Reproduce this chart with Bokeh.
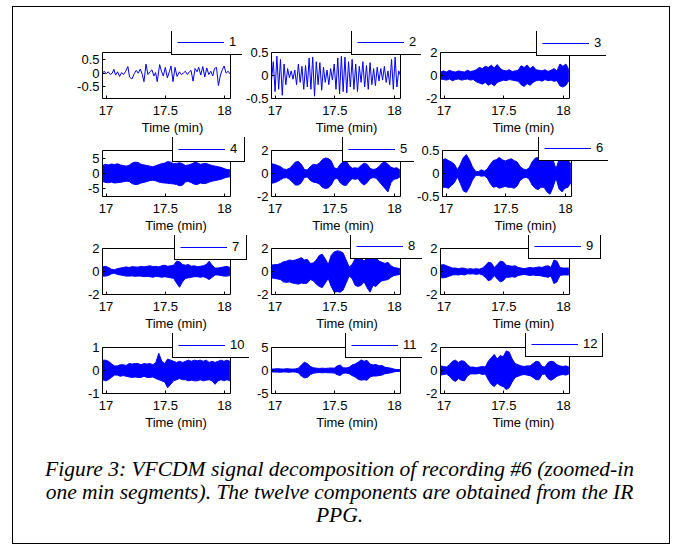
from bokeh.plotting import figure
from bokeh.models import Legend, LegendItem, FixedTicker, Range1d, Div, BoxAnnotation
from bokeh.layouts import row, column
from bokeh.embed import file_html
from bokeh.resources import INLINE

# ---------------- data ----------------
PANEL_NAMES = ["1", "2", "3", "4", "5", "6", "7", "8", "9", "10", "11", "12"]
X_LIM = (16.97, 18.05)
X_TICKS = [17, 17.5, 18]
X_TICK_LABELS = ["17", "17.5", "18"]
X_LABEL = "Time (min)"

Y_LIMITS = [(-0.92, 0.75), (-0.5, 0.5), (-2, 2), (-7.5, 7.5), (-2, 2), (-0.5, 0.5),
            (-2, 2), (-2, 2), (-2, 2), (-1, 1), (-5, 5), (-2, 2)]
Y_TICKS = [[-0.5, 0, 0.5], [-0.5, 0, 0.5], [-2, 0, 2], [-5, 0, 5], [-2, 0, 2], [-0.5, 0, 0.5],
           [-2, 0, 2], [-2, 0, 2], [-2, 0, 2], [-1, 0, 1], [-5, 0, 5], [-2, 0, 2]]
Y_TICK_LABELS = [["-0.5", "0", "0.5"], ["-0.5", "0", "0.5"], ["-2", "0", "2"], ["-5", "0", "5"],
                 ["-2", "0", "2"], ["-0.5", "0", "0.5"], ["-2", "0", "2"], ["-2", "0", "2"],
                 ["-2", "0", "2"], ["-1", "0", "1"], ["-5", "0", "5"], ["-2", "0", "2"]]

# component 1 (individual samples)
t1 = [16.97, 16.984, 17.001, 17.018, 17.035, 17.052, 17.066, 17.08, 17.097, 17.114,
      17.131, 17.148, 17.165, 17.184, 17.198, 17.218, 17.238, 17.255, 17.272, 17.289,
      17.306, 17.32, 17.337, 17.353, 17.37, 17.387, 17.404, 17.418, 17.432, 17.452,
      17.469, 17.483, 17.5, 17.517, 17.534, 17.548, 17.565, 17.582, 17.599, 17.619,
      17.635, 17.652, 17.669, 17.686, 17.703, 17.717, 17.734, 17.751, 17.768, 17.782,
      17.799, 17.816, 17.833, 17.85, 17.867, 17.884, 17.9, 17.915, 17.932, 17.948,
      17.965, 17.982, 17.996, 18.013, 18.03, 18.05]
v1 = [0.0, 0.07, -0.02, 0.05, -0.05, 0.0, 0.14, -0.07, 0.05, -0.12,
      0.02, -0.05, 0.07, 0.24, -0.14, -0.21, -0.02, 0.1, 0.0, 0.15,
      -0.05, -0.31, 0.33, -0.05, 0.05, 0.12, -0.1, 0.02, -0.31, 0.31,
      0.05, -0.1, 0.21, -0.17, 0.05, 0.26, -0.31, 0.21, -0.12, 0.05,
      -0.05, 0.0, 0.07, -0.05, 0.05, 0.1, -0.29, 0.17, 0.05, 0.21,
      -0.07, 0.24, -0.14, 0.19, -0.05, 0.07, -0.1, 0.17, 0.21, -0.45,
      -0.07, 0.14, 0.26, 0.0, 0.07, -0.05]

# component 2 (individual samples)
t2 = [16.970, 16.985, 17.000, 17.015, 17.030, 17.045, 17.060, 17.075, 17.090, 17.105,
      17.120, 17.135, 17.150, 17.165, 17.180, 17.195, 17.210, 17.225, 17.240, 17.255,
      17.270, 17.285, 17.300, 17.315, 17.330, 17.345, 17.360, 17.375, 17.390, 17.405,
      17.420, 17.435, 17.450, 17.465, 17.480, 17.495, 17.510, 17.525, 17.540, 17.555,
      17.570, 17.585, 17.600, 17.615, 17.630, 17.645, 17.660, 17.675, 17.690, 17.705,
      17.720, 17.735, 17.750, 17.765, 17.780, 17.795, 17.810, 17.825, 17.840, 17.855,
      17.870, 17.885, 17.900, 17.915, 17.930, 17.945, 17.960, 17.975, 17.990, 18.005,
      18.020, 18.035, 18.050]
v2 = [-0.1, 0.3, -0.35, 0.42, -0.3, 0.35, -0.43, 0.25, -0.2, 0.15,
      -0.05, 0.1, -0.08, 0.12, -0.2, 0.25, -0.15, 0.2, -0.3, 0.22,
      -0.25, 0.38, -0.3, 0.4, -0.45, 0.3, -0.2, 0.28, -0.32, 0.18,
      -0.15, 0.12, -0.2, 0.15, -0.1, 0.25, -0.3, 0.38, -0.4, 0.42,
      -0.35, 0.4, -0.38, 0.3, -0.25, 0.35, -0.3, 0.25, -0.35, 0.2,
      -0.15, 0.3, -0.25, 0.22, -0.3, 0.28, -0.2, 0.15, -0.22, 0.18,
      -0.12, 0.15, -0.1, 0.2, -0.15, 0.1, -0.2, 0.35, -0.3, 0.4,
      -0.25, 0.1, 0.0]

# components 3-12: dense oscillations, upper / lower envelopes on a time grid
t_env = [16.97, 16.995, 17.02, 17.045, 17.07, 17.095, 17.12, 17.145, 17.17, 17.195,
         17.22, 17.245, 17.27, 17.295, 17.32, 17.345, 17.37, 17.395, 17.42, 17.445,
         17.47, 17.495, 17.52, 17.545, 17.57, 17.595, 17.62, 17.645, 17.67, 17.695,
         17.72, 17.745, 17.77, 17.795, 17.82, 17.845, 17.87, 17.895, 17.92, 17.945,
         17.97, 17.995, 18.02, 18.045]

upper3 = [0.3, 0.4, 0.3, 0.45, 0.35, 0.3, 0.4, 0.35, 0.3, 0.45, 0.35, 0.4, 0.5, 0.7, 0.6, 0.8, 0.7, 0.9, 0.65, 0.95,
          0.6, 0.45, 0.4, 0.5, 0.35, 0.4, 0.45, 0.85, 0.7, 0.9, 0.6, 0.8, 0.5, 0.45, 0.4, 0.5, 0.35, 0.45, 0.6, 0.4,
          1.0, 0.8, 1.0, 0.5]
lower3 = [-0.3, -0.35, -0.4, -0.3, -0.45, -0.35, -0.3, -0.4, -0.35, -0.3, -0.4, -0.35, -0.55, -0.65, -0.75, -0.6, -0.85, -0.7, -0.9, -0.6,
          -0.5, -0.4, -0.45, -0.35, -0.4, -0.45, -0.5, -0.8, -0.95, -0.7, -0.85, -0.6, -0.45, -0.4, -0.5, -0.35, -0.45, -0.4, -0.5, -0.45,
          -0.9, -1.0, -0.85, -0.45]
upper4 = [2.6, 3.0, 2.8, 3.1, 2.9, 3.2, 2.8, 2.6, 2.4, 2.7, 3.4, 3.7, 3.6, 3.0, 2.8, 2.6, 2.4, 2.2, 2.5, 2.9,
          3.2, 3.4, 3.9, 3.7, 3.2, 3.3, 3.5, 3.2, 2.6, 2.8, 3.1, 3.6, 3.5, 3.0, 3.2, 3.3, 2.9, 2.6, 2.4, 2.2,
          2.0, 1.6, 1.3, 1.2]
lower4 = [-2.6, -2.9, -3.0, -2.8, -3.1, -3.0, -2.9, -2.7, -2.5, -2.6, -3.3, -3.6, -3.5, -3.1, -2.9, -2.6, -2.3, -2.2, -2.4, -2.8,
          -3.0, -3.1, -3.2, -3.3, -3.4, -3.6, -4.0, -3.8, -2.7, -2.6, -3.0, -3.5, -3.6, -3.1, -3.3, -3.2, -2.8, -2.5, -2.3, -2.1,
          -1.9, -1.5, -1.2, -1.1]
upper5 = [0.85, 0.8, 0.7, 0.6, 0.4, 0.35, 0.45, 0.7, 1.0, 1.05, 0.8, 0.35, 0.3, 0.6, 0.8, 0.75, 0.9, 1.2, 1.35, 1.3,
          1.1, 0.5, 0.4, 0.8, 1.0, 1.1, 0.7, 0.45, 0.5, 0.45, 0.7, 0.9, 0.8, 0.45, 0.35, 0.4, 0.6, 0.9, 1.0, 0.8,
          0.55, 0.45, 0.5, 0.3]
lower5 = [-0.85, -0.8, -0.7, -0.55, -0.4, -0.35, -0.5, -0.75, -1.0, -1.0, -0.8, -0.35, -0.3, -0.6, -0.75, -0.8, -0.9, -1.2, -1.3, -1.25,
          -1.0, -0.5, -0.4, -0.8, -1.0, -1.05, -0.7, -0.45, -0.5, -0.45, -0.8, -1.0, -0.8, -0.45, -0.35, -0.4, -0.7, -1.0, -1.3, -1.6,
          -0.8, -0.5, -0.45, -0.3]
upper6 = [0.3, 0.32, 0.28, 0.25, 0.2, 0.08, 0.2, 0.35, 0.41, 0.3, 0.15, 0.05, 0.04, 0.08, 0.05, 0.1, 0.2, 0.28, 0.3, 0.35,
          0.3, 0.27, 0.3, 0.32, 0.28, 0.25, 0.15, 0.1, 0.08, 0.12, 0.25, 0.33, 0.35, 0.3, 0.25, 0.35, 0.4, 0.3, 0.1, 0.3,
          0.38, 0.33, 0.3, 0.2]
lower6 = [-0.3, -0.3, -0.32, -0.26, -0.2, -0.07, -0.22, -0.38, -0.41, -0.3, -0.15, -0.05, -0.04, -0.06, -0.05, -0.1, -0.22, -0.3, -0.28, -0.32,
          -0.3, -0.28, -0.3, -0.3, -0.32, -0.27, -0.15, -0.1, -0.08, -0.12, -0.25, -0.32, -0.35, -0.3, -0.3, -0.4, -0.45, -0.3, -0.1, -0.33,
          -0.4, -0.32, -0.3, -0.2]
upper7 = [0.4, 0.45, 0.35, 0.2, 0.15, 0.25, 0.3, 0.35, 0.4, 0.35, 0.42, 0.4, 0.38, 0.45, 0.4, 0.45, 0.5, 0.42, 0.45, 0.4,
          0.5, 0.55, 0.45, 0.5, 0.55, 0.9, 0.85, 0.6, 0.55, 0.6, 0.45, 0.5, 0.42, 0.45, 0.5, 0.6, 0.9, 0.55, 0.3, 0.3,
          0.35, 0.4, 0.45, 0.35]
lower7 = [-0.4, -0.4, -0.35, -0.2, -0.15, -0.25, -0.3, -0.35, -0.4, -0.4, -0.38, -0.42, -0.4, -0.4, -0.45, -0.42, -0.45, -0.5, -0.42, -0.45,
          -0.5, -0.45, -0.5, -0.55, -0.6, -1.0, -1.37, -0.9, -0.6, -0.55, -0.5, -0.45, -0.45, -0.5, -0.45, -0.55, -0.7, -0.5, -0.3, -0.3,
          -0.35, -0.4, -0.4, -0.35]
upper8 = [0.55, 0.6, 0.6, 0.7, 0.85, 0.9, 1.0, 0.95, 1.0, 1.1, 1.2, 1.0, 1.05, 0.7, 0.75, 1.0, 1.4, 1.5, 1.1, 0.6,
          1.4, 1.7, 1.8, 1.75, 1.6, 1.0, 0.4, 0.6, 1.1, 1.2, 1.15, 0.9, 1.2, 1.3, 1.0, 1.2, 0.9, 0.8, 0.7, 0.8,
          0.5, 0.35, 0.3, 0.25]
lower8 = [-0.55, -0.6, -0.65, -0.7, -0.9, -0.95, -0.9, -1.0, -1.05, -1.1, -1.0, -1.05, -1.0, -0.7, -0.8, -1.1, -1.3, -1.4, -1.0, -0.6,
          -1.3, -1.8, -1.75, -1.8, -1.6, -1.0, -0.4, -0.6, -1.2, -1.3, -1.2, -0.9, -1.4, -1.8, -1.2, -1.3, -1.0, -0.8, -0.75, -0.7,
          -0.5, -0.35, -0.3, -0.25]
upper9 = [0.55, 0.6, 0.5, 0.4, 0.3, 0.3, 0.25, 0.3, 0.28, 0.2, 0.25, 0.2, 0.25, 0.2, 0.3, 0.5, 0.8, 0.75, 0.35, 0.6,
          0.9, 0.85, 0.55, 0.5, 0.45, 0.5, 0.35, 0.3, 0.25, 0.3, 0.35, 0.3, 0.35, 0.4, 0.35, 0.45, 0.5, 0.35, 1.0, 0.9,
          0.35, 0.3, 0.3, 0.3]
lower9 = [-0.55, -0.55, -0.5, -0.4, -0.3, -0.28, -0.3, -0.25, -0.3, -0.2, -0.22, -0.2, -0.25, -0.2, -0.3, -0.5, -0.8, -0.7, -0.35, -0.65,
          -0.9, -0.8, -0.5, -0.5, -0.45, -0.5, -0.35, -0.3, -0.25, -0.3, -0.35, -0.3, -0.35, -0.35, -0.4, -0.45, -0.5, -0.4, -1.05, -0.9,
          -0.35, -0.3, -0.3, -0.3]
upper10 = [0.45, 0.45, 0.4, 0.3, 0.2, 0.2, 0.25, 0.25, 0.22, 0.3, 0.28, 0.3, 0.3, 0.25, 0.3, 0.28, 0.3, 0.25, 0.35, 0.75,
           0.4, 0.3, 0.5, 0.45, 0.4, 0.35, 0.4, 0.35, 0.4, 0.45, 0.4, 0.45, 0.42, 0.45, 0.4, 0.45, 0.35, 0.4, 0.35, 0.4,
           0.45, 0.4, 0.45, 0.4]
lower10 = [-0.4, -0.45, -0.4, -0.3, -0.2, -0.2, -0.25, -0.22, -0.25, -0.28, -0.3, -0.28, -0.3, -0.3, -0.25, -0.3, -0.3, -0.28, -0.35, -0.4,
           -0.45, -0.5, -0.75, -0.6, -0.45, -0.4, -0.35, -0.4, -0.4, -0.45, -0.42, -0.45, -0.45, -0.4, -0.45, -0.42, -0.4, -0.45, -0.6, -0.45,
           -0.4, -0.45, -0.4, -0.45]
upper11 = [0.3, 0.35, 0.4, 0.35, 0.3, 0.4, 0.35, 0.3, 0.35, 0.5, 1.2, 1.8, 1.5, 0.9, 0.6, 0.5, 0.45, 0.5, 0.45, 0.5,
           0.55, 0.5, 1.0, 1.2, 0.6, 0.55, 0.7, 1.2, 1.4, 1.8, 2.3, 2.0, 2.2, 1.4, 1.2, 1.3, 1.0, 1.1, 0.7, 0.6,
           0.5, 0.3, 0.2, 0.2]
lower11 = [-0.3, -0.35, -0.35, -0.4, -0.3, -0.35, -0.4, -0.3, -0.35, -0.5, -1.2, -1.6, -1.5, -0.9, -0.6, -0.5, -0.45, -0.5, -0.45, -0.5,
           -0.5, -0.55, -0.9, -1.1, -0.6, -0.55, -0.7, -1.1, -1.4, -1.9, -2.1, -2.0, -2.1, -1.4, -1.2, -1.2, -1.1, -1.0, -0.7, -0.6,
           -0.5, -0.3, -0.2, -0.2]
upper12 = [0.4, 0.35, 0.3, 0.5, 0.8, 0.9, 0.7, 0.85, 0.8, 0.5, 0.3, 0.3, 0.25, 0.3, 0.35, 0.3, 0.8, 1.1, 1.4, 1.0,
           1.3, 1.2, 1.7, 1.6, 1.0, 0.6, 0.5, 0.4, 0.35, 0.4, 0.4, 0.6, 0.8, 0.75, 0.35, 0.3, 0.7, 0.8, 0.75, 0.5,
           0.4, 0.35, 0.4, 0.3]
lower12 = [-0.4, -0.35, -0.3, -0.5, -0.8, -0.95, -0.7, -0.85, -0.9, -0.5, -0.3, -0.3, -0.3, -0.25, -0.35, -0.3, -0.8, -1.2, -1.4, -1.1,
           -1.3, -1.4, -1.65, -1.5, -1.0, -0.6, -0.5, -0.4, -0.35, -0.4, -0.45, -0.6, -0.8, -0.8, -0.35, -0.3, -0.7, -0.85, -0.7, -0.5,
           -0.4, -0.35, -0.4, -0.3]

ENVELOPES = {2: (upper3, lower3), 3: (upper4, lower4), 4: (upper5, lower5), 5: (upper6, lower6),
             6: (upper7, lower7), 7: (upper8, lower8), 8: (upper9, lower9), 9: (upper10, lower10),
             10: (upper11, lower11), 11: (upper12, lower12)}

CAPTION_LINES = ["Figure 3: VFCDM signal decomposition of recording #6 (zoomed-in",
                 "one min segments). The twelve components are obtained from the IR",
                 "PPG."]

# ---------------- layout / style ----------------
BLUE = "#0000ff"
FONT = "Liberation Sans"
FS = "13px"
FRAME_L = [102, 271, 439]           # left edge of each axes box (page px)
FRAME_W = [128, 129, 129]           # width of each axes box
BOX_H = 46                          # height of each axes box
ROW_BOUNDS = [(13, 243, 422, 666), (13, 251, 414, 666), (13, 251, 422, 666), (13, 251, 422, 666)]
ROW_TOP = [24, 0, 0, 0]             # figure space above the (extended) plot frame
ROW_EXT_T = [21, 13, 13, 14]        # frame extends above the axes box to hold the legend
ROW_EXT_R = [(12, 21, 37), (19, 14, 37), (19, 22, 37), (19, 22, 37)]
ROW_BOTTOM = 39
LEGEND_POS = [(69, 43), (80, 43), (96, 42), (70, 34), (71, 34), (96, 35),
              (72, 34), (79, 35), (88, 35), (70, 35), (74, 35), (85, 36)]
CONTENT_W = 653
CAPTION_H = 111


def style_axis(ax, ticks, labels, bounds):
    ax.ticker = FixedTicker(ticks=ticks)
    ax.bounds = bounds
    ax.major_tick_in = 3
    ax.major_tick_out = 0
    ax.minor_tick_in = 0
    ax.minor_tick_out = 0
    ax.axis_line_color = "black"
    ax.major_tick_line_color = "black"
    ax.major_label_overrides = dict(zip(ticks, labels))
    ax.major_label_text_font = FONT
    ax.major_label_text_font_size = FS
    ax.major_label_text_color = "black"
    ax.major_label_standoff = 3


def build_panel(k, ri, ci):
    L = ROW_BOUNDS[ri][ci]
    R = ROW_BOUNDS[ri][ci + 1]
    fl = FRAME_L[ci]
    fw = FRAME_W[ci]
    ext_t = ROW_EXT_T[ri]
    ext_r = ROW_EXT_R[ri][ci]
    ylo, yhi = Y_LIMITS[k]
    x_end = X_LIM[1] + (X_LIM[1] - X_LIM[0]) * ext_r / fw
    y_end = yhi + (yhi - ylo) * ext_t / BOX_H
    p = figure(frame_width=fw + ext_r, frame_height=BOX_H + ext_t,
               min_border_left=fl - L, min_border_right=R - (fl + fw + ext_r),
               min_border_top=ROW_TOP[ri], min_border_bottom=ROW_BOTTOM,
               x_range=Range1d(X_LIM[0], x_end), y_range=Range1d(ylo, y_end),
               output_backend="svg", toolbar_location=None, tools="")
    p.xgrid.visible = False
    p.ygrid.visible = False
    p.outline_line_color = None
    p.background_fill_color = "white"
    p.border_fill_color = "white"

    style_axis(p.xaxis[0], X_TICKS, X_TICK_LABELS, X_LIM)
    p.xaxis[0].major_label_standoff = 7
    p.xaxis[0].axis_label = X_LABEL
    p.xaxis[0].axis_label_text_font = FONT
    p.xaxis[0].axis_label_text_font_size = FS
    p.xaxis[0].axis_label_text_font_style = "normal"
    p.xaxis[0].axis_label_text_color = "black"
    p.xaxis[0].axis_label_standoff = 2
    style_axis(p.yaxis[0], Y_TICKS[k], Y_TICK_LABELS[k], (ylo, yhi))

    if k == 0:
        r = p.line(t1, v1, line_color=BLUE, line_width=1)
    elif k == 1:
        r = p.line(t2, v2, line_color=BLUE, line_width=1)
    else:
        up, lo = ENVELOPES[k]
        p.varea(x=t_env, y1=lo, y2=up, fill_color=BLUE, fill_alpha=1)
        r = p.line(t_env, up, line_color=BLUE, line_width=1)
        p.line(t_env, lo, line_color=BLUE, line_width=1)

    # axes box (top and right edges; left/bottom coincide with the axis lines)
    p.add_layout(BoxAnnotation(left=X_LIM[0], right=X_LIM[1], bottom=ylo, top=yhi,
                               fill_color=None, fill_alpha=0,
                               line_color="black", line_width=1, line_alpha=1))

    leg = Legend(items=[LegendItem(label=PANEL_NAMES[k], renderers=[r])],
                 location=LEGEND_POS[k], padding=5, margin=0, spacing=0,
                 glyph_width=47, glyph_height=14, label_width=9, label_height=14,
                 label_standoff=5, border_line_color="black", border_line_width=1,
                 border_line_alpha=1, background_fill_color="white", background_fill_alpha=1,
                 label_text_font=FONT, label_text_font_size=FS, label_text_color="black")
    p.add_layout(leg)
    return p


rows = []
for ri in range(4):
    figs = [build_panel(ri * 3 + ci, ri, ci) for ci in range(3)]
    rows.append(row(*figs, spacing=0))

cap_html = ('<div style="width:%dpx;font-family:\'Liberation Serif\',serif;font-style:italic;'
            'font-size:21.5px;line-height:23px;text-align:center;padding-top:26px;color:#000;">'
            % CONTENT_W + "<br>".join(CAPTION_LINES) + "</div>")
caption = Div(text=cap_html, width=CONTENT_W, height=CAPTION_H, margin=0)

page = column(*rows, caption, spacing=0,
              styles={"border": "1px solid black", "margin-left": "12px", "margin-top": "6px"})

open("out.html", "w").write(file_html(page, INLINE))
